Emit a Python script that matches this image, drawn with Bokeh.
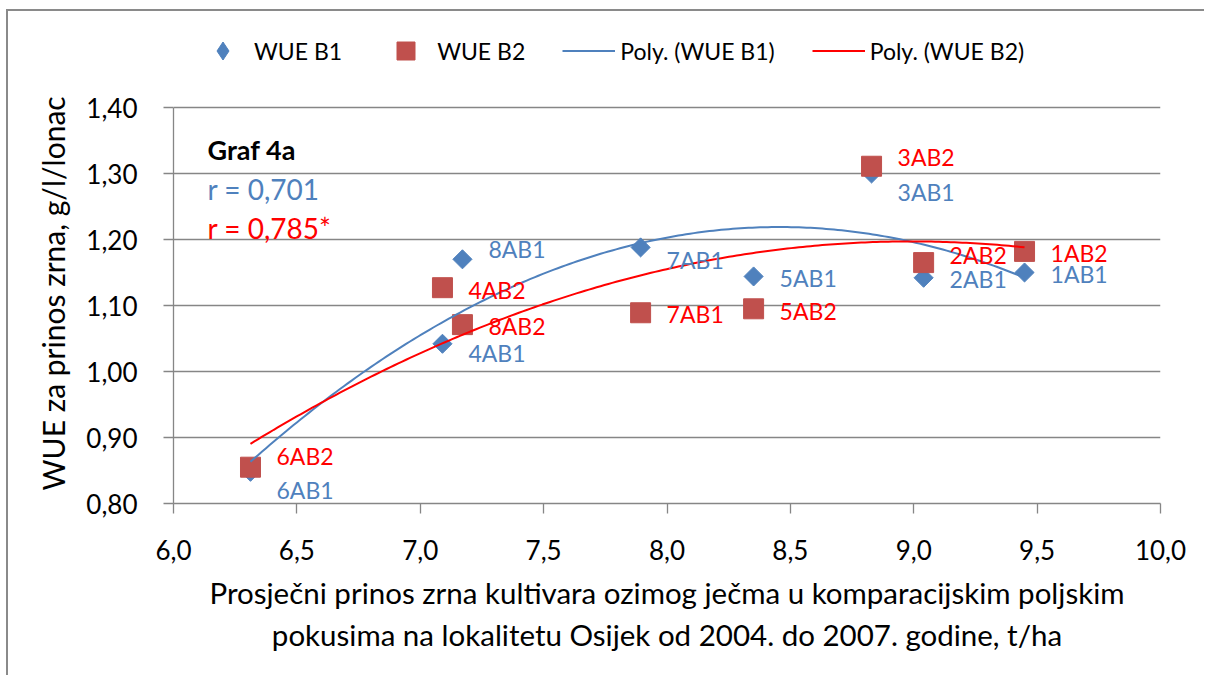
import numpy as np
from bokeh.plotting import figure
from bokeh.models import (ColumnDataSource, Legend, LegendItem, Label, Title,
                          FixedTicker, CustomJSTickFormatter, Range1d)
from bokeh.embed import file_html
from bokeh.resources import INLINE
from bokeh.core.properties import value

# ---------------- data ----------------
point_ids_b1 = ["1AB1", "2AB1", "3AB1", "4AB1", "5AB1", "6AB1", "7AB1", "8AB1"]
point_ids_b2 = ["1AB2", "2AB2", "3AB2", "4AB2", "5AB2", "6AB2", "7AB1", "8AB2"]
grain_yield = [9.449, 9.040, 8.829, 7.090, 8.351, 6.312, 7.893, 7.171]
wue_b1 = [1.150, 1.142, 1.300, 1.042, 1.144, 0.848, 1.188, 1.170]
wue_b2 = [1.182, 1.165, 1.311, 1.127, 1.095, 0.855, 1.089, 1.071]
x_ticks = [6.0, 6.5, 7.0, 7.5, 8.0, 8.5, 9.0, 9.5, 10.0]
y_ticks = [0.80, 0.90, 1.00, 1.10, 1.20, 1.30, 1.40]
r_b1 = "r = 0,701"
r_b2 = "r = 0,785*"
chart_tag = "Graf 4a"
x_title = ("Prosječni prinos zrna kultivara ozimog ječma u komparacijskim poljskim\n"
           "pokusima na lokalitetu Osijek od 2004. do 2007. godine, t/ha")
y_title = "WUE za prinos zrna, g/l/lonac"

# label nudges (pixels, styling only)
lab_dx = 26
lab_dy_b1 = [1, 1, 18, 9, 2, 18, 13, -10]
lab_dy_b2 = [2, -8, -9, 2, 2, -11, 1, 1]

BLUE = "#4F81BD"
SQ_RED = "#C0504D"
RED = "#FF0000"
GRAY = "#868686"
FONT = "Lato"

# layout: the value axis runs 0.80-1.40 over 396 px; the frame is extended
# upward (86 px) so the legend, drawn inside the frame, is not clipped
PLOT_H = 396
EXTRA_TOP = 86
y_lo, y_hi = y_ticks[0], y_ticks[-1]
y_top = y_hi + EXTRA_TOP * (y_hi - y_lo) / PLOT_H

p = figure(width=1198, height=666, output_backend="svg", toolbar_location=None,
           x_range=Range1d(x_ticks[0], x_ticks[-1]), y_range=Range1d(y_lo, y_top),
           min_border_left=165, min_border_right=46, min_border_top=10,
           min_border_bottom=174)
p.styles = {"border-left": "2px solid #8a8a8a", "border-top": "2px solid #8a8a8a",
            "margin-left": "6px", "margin-top": "9px"}
p.outline_line_color = None
p.background_fill_color = "white"
p.border_fill_color = "white"

# axes
p.xaxis.ticker = FixedTicker(ticks=x_ticks)
p.yaxis.ticker = FixedTicker(ticks=y_ticks)
p.yaxis.bounds = (y_lo, y_hi)
p.xaxis.formatter = CustomJSTickFormatter(code="return tick.toFixed(1).replace('.', ',');")
p.yaxis.formatter = CustomJSTickFormatter(code="return tick.toFixed(2).replace('.', ',');")
for ax in (p.xaxis, p.yaxis):
    ax.axis_line_color = GRAY
    ax.axis_line_width = 1.3
    ax.major_tick_line_color = GRAY
    ax.major_tick_line_width = 1.3
    ax.major_tick_out = 10
    ax.major_tick_in = 0
    ax.minor_tick_line_color = None
    ax.major_label_text_font = FONT
    ax.major_label_text_font_size = "26px"
    ax.major_label_text_color = "black"
p.xaxis.axis_label_text_font = FONT
p.xaxis.axis_label_text_font_style = "normal"
p.xaxis.axis_label_text_color = "black"
p.xaxis.axis_label_text_font_size = "29.5px"
p.xaxis.major_label_standoff = 26
p.yaxis.major_label_standoff = 26
p.xaxis.axis_label = x_title
p.xaxis.axis_label_standoff = 12

# y title as a side Title, starting just above the 0.80 line
p.add_layout(Title(text=y_title, align="left", offset=13, standoff=26,
                   text_font=FONT, text_font_size="30px", text_font_style="normal",
                   text_color="black"), "left")

p.xgrid.grid_line_color = None
p.ygrid.grid_line_color = GRAY
p.ygrid.grid_line_width = 1.3

# markers
src1 = ColumnDataSource(dict(x=grain_yield, y=wue_b1, lab=point_ids_b1, dy=lab_dy_b1))
src2 = ColumnDataSource(dict(x=grain_yield, y=wue_b2, lab=point_ids_b2, dy=lab_dy_b2))
# diamond used as legend swatch (legend glyphs ignore marker angle); hidden under r1
r1_key = p.scatter("x", "y", source=src1, marker="diamond", size=1,
                   fill_color=BLUE, line_color=BLUE)
r1 = p.scatter("x", "y", source=src1, marker="square", angle=np.pi / 4, size=13.5,
               fill_color=BLUE, line_color=BLUE)
r2 = p.scatter("x", "y", source=src2, marker="square", size=20,
               fill_color=SQ_RED, line_color=SQ_RED)

# polynomial (order 2) trendlines fitted to the data, like Excel's "Poly."
xs = np.linspace(min(grain_yield), max(grain_yield), 200)
c1 = np.polyfit(grain_yield, wue_b1, 2)
c2 = np.polyfit(grain_yield, wue_b2, 2)
l1 = p.line(xs, np.polyval(c1, xs), line_color=BLUE, line_width=2)
l2 = p.line(xs, np.polyval(c2, xs), line_color=RED, line_width=2)

# data labels
p.text("x", "y", text="lab", source=src1, x_offset=lab_dx, y_offset="dy",
       text_font=value(FONT), text_font_size="23px", text_color=BLUE,
       text_baseline="middle", text_align="left")
p.text("x", "y", text="lab", source=src2, x_offset=lab_dx, y_offset="dy",
       text_font=value(FONT), text_font_size="23px", text_color=RED,
       text_baseline="middle", text_align="left")

# annotations
p.add_layout(Label(x=6.138, y=1.336, text=chart_tag, text_font=FONT, text_font_size="27px",
                   text_font_style="bold", text_color="black", text_baseline="alphabetic"))
p.add_layout(Label(x=6.138, y=1.276, text=r_b1, text_font=FONT, text_font_size="28px",
                   text_color=BLUE, text_baseline="alphabetic"))
p.add_layout(Label(x=6.138, y=1.217, text=r_b2, text_font=FONT, text_font_size="28px",
                   text_color=RED, text_baseline="alphabetic"))

# legend
legend = Legend(items=[LegendItem(label="WUE B1", renderers=[r1_key]),
                       LegendItem(label="WUE B2", renderers=[r2]),
                       LegendItem(label="Poly. (WUE B1)", renderers=[l1]),
                       LegendItem(label="Poly. (WUE B2)", renderers=[l2])],
                orientation="horizontal", location=(23, 430),
                glyph_width=53, glyph_height=45, label_standoff=5, spacing=37,
                padding=0, margin=0, border_line_alpha=0, background_fill_alpha=0,
                label_text_font=FONT, label_text_font_size="23px",
                label_text_color="black")
p.add_layout(legend, "center")

open("out.html", "w").write(file_html(p, INLINE))
